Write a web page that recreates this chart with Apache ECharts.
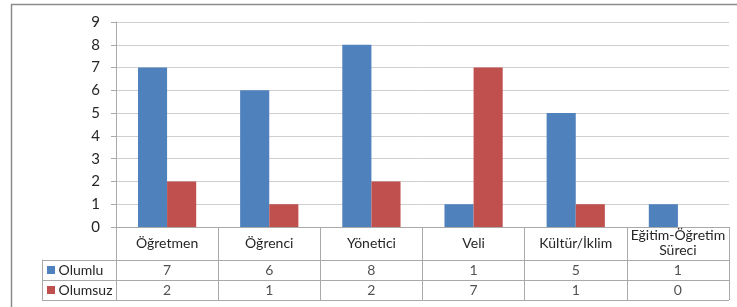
<!DOCTYPE html>
<html>
<head>
<meta charset="utf-8">
<script src="https://cdn.jsdelivr.net/npm/echarts@6/dist/echarts.min.js"></script>
<style>
  html, body { margin: 0; padding: 0; background: #fff; }
  #chart { width: 737px; height: 307px; }
</style>
</head>
<body>
<div id="chart"></div>
<script>
var categories = ['Öğretmen', 'Öğrenci', 'Yönetici', 'Veli', 'Kültür/İklim', 'Eğitim-Öğretim\nSüreci'];
var seriesNames = ['Olumlu', 'Olumsuz'];
var olumlu = [7, 6, 8, 1, 5, 1];
var olumsuz = [2, 1, 2, 7, 1, 0];
var yTicks = [0, 9, 1]; // min, max, interval

var colors = ['#4F81BD', '#C0504D'];
var lineColor = '#a9a9a9';
var gridColor = '#cfcfcf';
var font = 'Lato, "Open Sans", sans-serif';

// table cells built from the series arrays
var tableData = [];
[olumlu, olumsuz].forEach(function (arr, si) {
    arr.forEach(function (v, i) {
        tableData.push([categories[i], seriesNames[si], v]);
    });
});

var myChart = echarts.init(document.getElementById('chart'));

var option = {
    animation: false,
    backgroundColor: '#fff',
    textStyle: { fontFamily: font },
    graphic: [
        { type: 'line', shape: { x1: 11, y1: 4.5, x2: 737, y2: 4.5 }, style: { stroke: '#8c8c8c', lineWidth: 1.5 } },
        { type: 'line', shape: { x1: 11.5, y1: 4, x2: 11.5, y2: 307 }, style: { stroke: '#8c8c8c', lineWidth: 1.5 } }
    ],
    grid: [
        { left: 116, right: 8, top: 22, height: 205 },
        { left: 116, right: 8, top: 260, height: 40 }
    ],
    xAxis: [
        {
            type: 'category',
            gridIndex: 0,
            data: categories,
            axisLine: { lineStyle: { color: lineColor } },
            axisTick: { show: true, interval: 0, length: 73, lineStyle: { color: lineColor } },
            axisLabel: {
                interval: 0,
                margin: 16,
                verticalAlign: 'middle',
                color: '#262626',
                fontSize: 14,
                lineHeight: 15,
                fontFamily: font
            },
            splitLine: { show: false }
        },
        {
            type: 'category',
            gridIndex: 1,
            data: categories,
            axisLine: { show: false },
            axisTick: { show: false },
            axisLabel: { show: false },
            splitLine: { show: false }
        }
    ],
    yAxis: [
        {
            type: 'value',
            gridIndex: 0,
            min: yTicks[0],
            max: yTicks[1],
            interval: yTicks[2],
            axisLine: { show: true, lineStyle: { color: lineColor } },
            axisTick: { show: true, length: 5, lineStyle: { color: lineColor } },
            axisLabel: { margin: 16, color: '#262626', fontSize: 15, fontFamily: font },
            splitLine: { lineStyle: { color: gridColor } }
        },
        {
            type: 'category',
            gridIndex: 1,
            data: seriesNames,
            inverse: true,
            axisLine: { show: true, lineStyle: { color: lineColor } },
            axisTick: { show: true, interval: 0, length: 74, lineStyle: { color: lineColor } },
            axisLabel: {
                margin: 69,
                align: 'left',
                fontSize: 14,
                color: '#262626',
                fontFamily: font,
                formatter: function (v) {
                    return (v === seriesNames[0] ? '{a|}' : '{b|}') + ' ' + v;
                },
                rich: {
                    a: { backgroundColor: colors[0], width: 8, height: 8 },
                    b: { backgroundColor: colors[1], width: 8, height: 8 }
                }
            },
            splitLine: { show: true, interval: 0, lineStyle: { color: lineColor } }
        },
        {
            type: 'category',
            gridIndex: 1,
            data: seriesNames,
            position: 'left',
            offset: 74,
            axisLine: { show: true, lineStyle: { color: lineColor } },
            axisTick: { show: false },
            axisLabel: { show: false },
            splitLine: { show: false }
        }
    ],
    series: [
        {
            name: seriesNames[0],
            type: 'bar',
            xAxisIndex: 0,
            yAxisIndex: 0,
            data: olumlu,
            barGap: '0%',
            barCategoryGap: '43%',
            itemStyle: { color: colors[0] }
        },
        {
            name: seriesNames[1],
            type: 'bar',
            xAxisIndex: 0,
            yAxisIndex: 0,
            data: olumsuz,
            barGap: '0%',
            barCategoryGap: '43%',
            itemStyle: { color: colors[1] }
        },
        {
            type: 'scatter',
            xAxisIndex: 1,
            yAxisIndex: 1,
            data: tableData,
            symbolSize: 1,
            itemStyle: { color: 'rgba(0,0,0,0)' },
            label: {
                show: true,
                position: 'inside',
                color: '#262626',
                fontSize: 14,
                fontFamily: font,
                formatter: function (p) { return p.value[2]; }
            }
        }
    ]
};

myChart.setOption(option);
</script>
</body>
</html>
